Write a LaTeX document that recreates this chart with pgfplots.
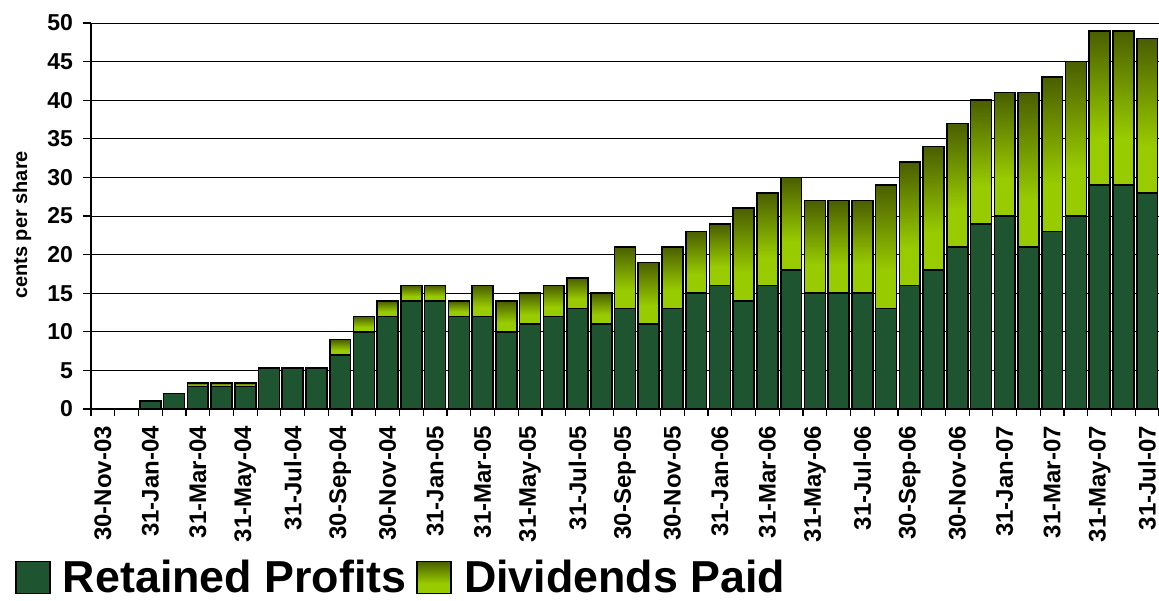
\documentclass[border=0pt]{standalone}
\usepackage{fontspec}
\setmainfont{Liberation Sans}
\usepackage{pgfplots}
\pgfplotsset{compat=1.18}
\usepackage{pgfplotstable}
\definecolor{retained}{RGB}{30,84,48}
\pgfdeclareverticalshading{divshade}{100bp}{rgb(0bp)=(0.60,0.80,0.0); rgb(40bp)=(0.60,0.80,0.0); rgb(75bp)=(0.29,0.37,0.0); rgb(100bp)=(0.29,0.37,0.0)}
\pgfplotstableread{
idx ret div
0 0 0
1 0 0
2 1 0
3 2 0
4 2.9 0.5
5 2.9 0.5
6 2.9 0.5
7 5.3 0
8 5.3 0
9 5.3 0
10 7 2
11 10 2
12 12 2
13 14 2
14 14 2
15 12 2
16 12 4
17 10 4
18 11 4
19 12 4
20 13 4
21 11 4
22 13 8
23 11 8
24 13 8
25 15 8
26 16 8
27 14 12
28 16 12
29 18 12
30 15 12
31 15 12
32 15 12
33 13 16
34 16 16
35 18 16
36 21 16
37 24 16
38 25 16
39 21 20
40 23 20
41 25 20
42 29 20
43 29 20
44 28 20
}\datatable
\pgfplotsset{sqlegend/.style={legend image code/.code={\draw[##1, line width=0.8pt] (0pt,-8pt) rectangle (17pt,8pt);}}}
\begin{document}
\begin{tikzpicture}
\begin{axis}[
  at={(0,0)}, anchor=south west,
  scale only axis, width=534pt, height=193pt,
  xmin=-0.5, xmax=44.5, ymin=0, ymax=50,
  axis x line*=bottom, axis y line*=left,
  axis line style={-, black, line width=0.6pt},
  ytick={0,5,...,50}, ymajorgrids,
  grid style={black, line width=0.45pt},
  xtick={0,2,...,44},
  xticklabels={30-Nov-03,31-Jan-04,31-Mar-04,31-May-04,31-Jul-04,30-Sep-04,30-Nov-04,31-Jan-05,31-Mar-05,31-May-05,31-Jul-05,30-Sep-05,30-Nov-05,31-Jan-06,31-Mar-06,31-May-06,31-Jul-06,30-Sep-06,30-Nov-06,31-Jan-07,31-Mar-07,31-May-07,31-Jul-07},
  minor xtick={-0.5,0.5,...,44.5},
  tick align=outside,
  major tick length=4pt, minor tick length=3.5pt,
  major x tick style={draw=none},
  minor x tick style={black, line width=0.6pt},
  y tick style={black, line width=0.6pt},
  /pgf/number format/assume math mode=true,
  xticklabel style={rotate=90, anchor=east, font=\fontsize{12}{14}\selectfont\bfseries},
  xticklabel shift=1pt,
  yticklabel style={font=\fontsize{11.5}{13}\selectfont\bfseries},
  yticklabel shift=1.5pt,
  ylabel={cents per share},
  ylabel style={at={(axis description cs:-0.0646,0.477)}, rotate=0, anchor=center, font=\fontsize{10}{12}\selectfont\bfseries},
  legend style={at={(axis description cs:-0.0712,-0.436)}, anchor=west, draw=none, fill=none, inner sep=0pt,
    nodes={inner ysep=1pt},
    font=\fontsize{22.4}{27}\selectfont\bfseries,
    /tikz/every odd column/.append style={column sep=4pt},
    /tikz/every even column/.append style={column sep=3pt}},
  legend columns=2,
]
\addplot[ybar, bar width=0.88, draw=black, line width=0.8pt, fill=retained, sqlegend] table[x=idx, y=ret] {\datatable};
\pgfplotsinvokeforeach{4,5,6,10,11,...,44}{
  \pgfplotstablegetelem{#1}{ret}\of\datatable
  \pgfmathsetmacro\R{\pgfplotsretval}
  \pgfplotstablegetelem{#1}{div}\of\datatable
  \pgfmathsetmacro\T{\R+\pgfplotsretval}
  \pgfmathsetmacro\xa{#1-0.44}
  \pgfmathsetmacro\xb{#1+0.44}
  \addplot[draw=black, line width=0.8pt, line join=miter, shading=divshade, shade, sqlegend]
    coordinates {(\xa,\R) (\xb,\R) (\xb,\T) (\xa,\T) (\xa,\R)};
}
\legend{Retained Profits, Dividends Paid}
\end{axis}
\pgfresetboundingbox
\path[use as bounding box] (-45.5pt,-95.5pt) rectangle (534pt,204.5pt);
\end{tikzpicture}
\end{document}
